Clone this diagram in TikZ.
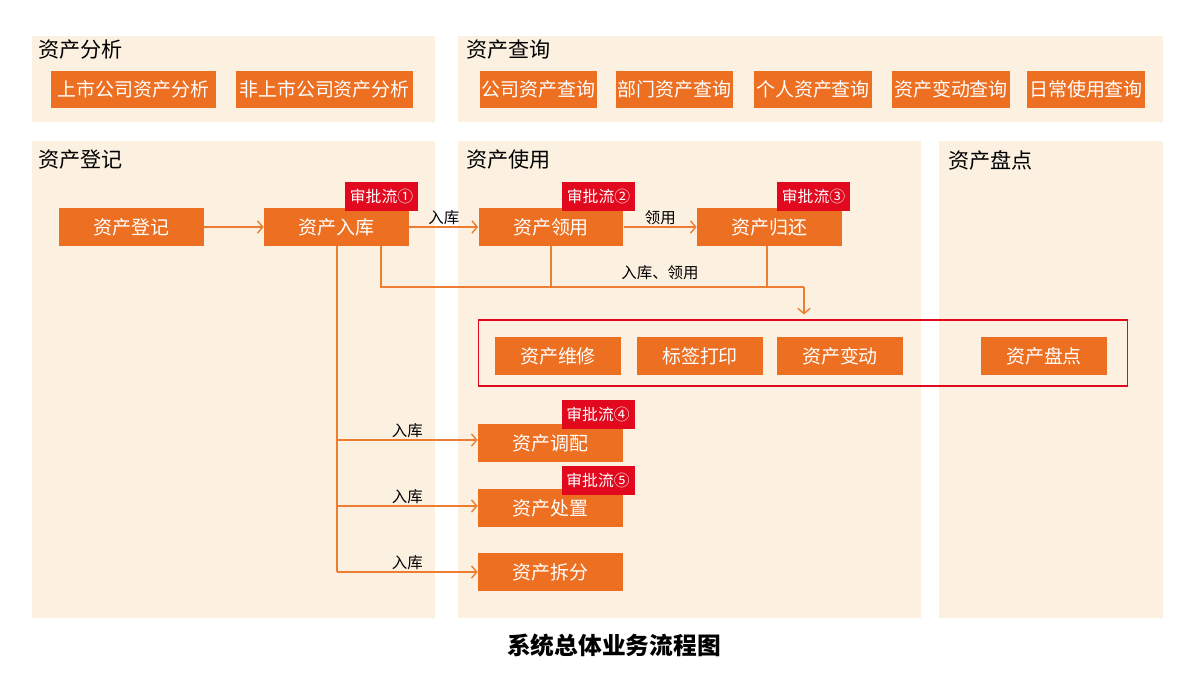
\documentclass[tikz,border=0pt]{standalone}
\usepackage{fontspec}
\setmainfont{Noto Sans CJK SC}
\usetikzlibrary{positioning, arrows.meta}
\definecolor{bgpanel}{RGB}{252,240,225}
\definecolor{boxorange}{RGB}{236,111,34}
\definecolor{lineorange}{RGB}{237,125,49}
\definecolor{flowred}{RGB}{226,8,30}
\tikzset{
panel/.style={fill=bgpanel},
title/.style={anchor=west, inner sep=0pt, font=\fontsize{12}{14}\selectfont},
box/.style={fill=boxorange, text=white, inner sep=0pt, minimum width=2.9cm, minimum height=0.76cm, font=\fontsize{10.8}{12}\selectfont},
flow/.style={fill=flowred, text=white, inner sep=0pt, minimum width=1.46cm, minimum height=0.58cm, font=\fontsize{9}{10}\selectfont},
link/.style={draw=lineorange, line width=0.8pt},
arr/.style={link, -{Straight Barb[length=3pt, width=7pt]}},
lbl/.style={inner sep=1pt, font=\fontsize{8.8}{10}\selectfont},
}

\begin{document}
\begin{tikzpicture}[x=0.02cm, y=-0.02cm]
    \useasboundingbox (0,0) rectangle (1197,673);

    %panels
    \fill[panel] (32,36) rectangle (435,122);
    \fill[panel] (458,36) rectangle (1163,122);
    \fill[panel] (32,141) rectangle (435,618);
    \fill[panel] (458,141) rectangle (921,618);
    \fill[panel] (939,141) rectangle (1163,618);

    %titles
    \node[title] (p1) at (38,50) {资产分析};
    \node[title] (p2) at (466,50) {资产查询};
    \node[title] (p3) at (38,160) {资产登记};
    \node[title] (p4) at (466,160) {资产使用};
    \node[title] (p5) at (948,160) {资产盘点};

    %analysis and query
    \node[box, minimum width=3.3cm] (a1) at (133.5,89.5) {上市公司资产分析};
    \node[box, minimum width=3.54cm] (a2) at (324.5,89.5) {非上市公司资产分析};
    \node[box, minimum width=2.36cm] (q1) at (538.5,89.5) {公司资产查询};
    \node[box, minimum width=2.36cm] (q2) at (674.5,89.5) {部门资产查询};
    \node[box, minimum width=2.36cm] (q3) at (813,89.5) {个人资产查询};
    \node[box, minimum width=2.36cm] (q4) at (951,89.5) {资产变动查询};
    \node[box, minimum width=2.36cm] (q5) at (1086,89.5) {日常使用查询};

    %main row
    \node[box] (b1) at (131.5,227) {资产登记};
    \node[box] (b2) at (336.5,227) {资产入库};
    \node[box] (b3) at (551,227) {资产领用};
    \node[box] (b4) at (769.5,227) {资产归还};
    \node[flow] (f1) at (381.5,196.5) {审批流①};
    \node[flow] (f2) at (598.5,196.5) {审批流②};
    \node[flow] (f3) at (813.5,196.5) {审批流③};

    %group
    \node[draw=flowred, line width=0.6pt, minimum width=13cm, minimum height=1.32cm] (grp) at (803,353) {};
    \node[box, minimum width=2.52cm] (g1) at (558,356) {资产维修};
    \node[box, minimum width=2.52cm] (g2) at (700,356) {标签打印};
    \node[box, minimum width=2.52cm] (g3) at (840,356) {资产变动};
    \node[box, minimum width=2.52cm] (g4) at (1044,356) {资产盘点};

    %lower boxes
    \node[box] (b5) at (550.5,443) {资产调配};
    \node[box] (b6) at (550.5,508) {资产处置};
    \node[box] (b7) at (550.5,572) {资产拆分};
    \node[flow] (f4) at (598,414.5) {审批流④};
    \node[flow] (f5) at (598,480.5) {审批流⑤};

    %arrows
    \draw[arr] (b1) -- (b2);
    \draw[arr] (b2) -- node[lbl, above] {入库} (b3);
    \draw[arr] (b3) -- node[lbl, above] {领用} (b4);

    \coordinate (c1) at (381,287);
    \coordinate (c2) at (804,287);
    \draw[link] (b2.south -| c1) -- (c1) -- (c2);
    \draw[link] (b3) -- (b3 |- c1);
    \draw[link] (b4.south -| 767,0) -- (767,287);
    \draw[arr, shorten >=0.1cm] (c2) -- (grp.north -| c2);
    \node[lbl] (l1) at (660,273) {入库、领用};

    \coordinate (t0) at (337,572);
    \draw[link] (b2.south -| t0) -- (t0);
    \draw[arr] (t0 |- 0,440) -- node[lbl, above] {入库} (b5.west |- 0,440);
    \draw[arr] (t0 |- 0,506) -- node[lbl, above] {入库} (b6.west |- 0,506);
    \draw[arr] (t0) -- node[lbl, above] {入库} (b7.west |- t0);

    \node[font=\fontsize{13.5}{15}\selectfont\bfseries] (cap) at (614,645) {系统总体业务流程图};
\end{tikzpicture}
\end{document}
